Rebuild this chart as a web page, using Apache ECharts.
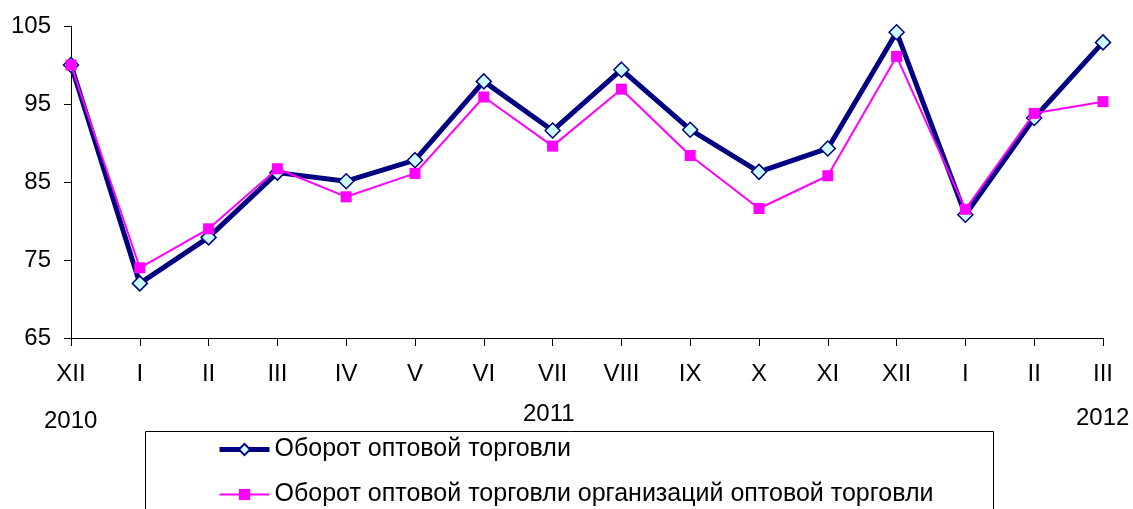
<!DOCTYPE html>
<html>
<head>
<meta charset="utf-8">
<script src="https://cdn.jsdelivr.net/npm/echarts@6/dist/echarts.min.js"></script>
<style>
html,body{margin:0;padding:0;background:#fff;}
#c{width:1133px;height:509px;}
</style>
</head>
<body>
<div id="c"></div>
<script>
var categories = ['XII','I','II','III','IV','V','VI','VII','VIII','IX','X','XI','XII','I','II','III'];
var wholesaleTurnover = [100.0,72.0,77.9,86.2,85.1,87.8,97.9,91.6,99.4,91.7,86.3,89.3,104.2,80.8,93.2,102.9];
var wholesaleOrgTurnover = [100.0,74.0,79.0,86.7,83.1,86.1,95.9,89.6,96.9,88.4,81.6,85.8,101.1,81.5,93.8,95.3];
var yTicks = [65,75,85,95,105];
var seriesNames = ['Оборот оптовой торговли','Оборот оптовой торговли организаций оптовой торговли'];
var yearLabels = ['2010','2011','2012'];

var font = '"Liberation Sans", Arial, sans-serif';
var chart = echarts.init(document.getElementById('c'));
chart.setOption({
  animation: false,
  backgroundColor: '#fff',
  grid: {left: 71, right: 30, top: 26, bottom: 171},
  xAxis: {
    type: 'category',
    data: categories,
    boundaryGap: false,
    axisLine: {lineStyle: {color: '#000', width: 1}},
    axisTick: {show: true, alignWithLabel: true, length: 8, lineStyle: {color: '#000'}},
    axisLabel: {color: '#000', fontSize: 24, fontFamily: font, margin: 24, interval: 0}
  },
  yAxis: {
    type: 'value',
    min: yTicks[0],
    max: yTicks[yTicks.length-1],
    interval: 10,
    axisLine: {show: true, lineStyle: {color: '#000', width: 1}},
    axisTick: {show: true, length: 7, lineStyle: {color: '#000'}},
    splitLine: {show: false},
    axisLabel: {color: '#000', fontSize: 24, fontFamily: font, margin: 20}
  },
  legend: {
    orient: 'vertical',
    left: 217,
    top: 437,
    height: 120,
    padding: 0,
    itemWidth: 50,
    itemHeight: 14,
    itemGap: 20,
    lineStyle: {width: 'inherit'},
    textStyle: {color: '#000', fontSize: 25, lineHeight: 25, fontFamily: font},
    data: seriesNames
  },
  graphic: [
    {type: 'rect', left: 143, top: 429, shape: {width: 848, height: 100}, style: {fill: 'none', stroke: '#000', lineWidth: 1}, z: -1},
    {type: 'text', left: 44, top: 409, style: {text: yearLabels[0], font: '24px ' + font, fill: '#000'}},
    {type: 'text', left: 523, top: 402, style: {text: yearLabels[1], font: '24px ' + font, fill: '#000'}},
    {type: 'text', left: 1076, top: 406, style: {text: yearLabels[2], font: '24px ' + font, fill: '#000'}}
  ],
  series: [
    {
      name: seriesNames[0],
      type: 'line',
      data: wholesaleTurnover,
      symbol: 'diamond',
      symbolSize: 15,
      lineStyle: {color: '#000080', width: 5},
      itemStyle: {color: '#CCFFFF', borderColor: '#000080', borderWidth: 1.5},
      z: 2
    },
    {
      name: seriesNames[1],
      type: 'line',
      data: wholesaleOrgTurnover,
      symbol: 'rect',
      symbolSize: 11,
      lineStyle: {color: '#FF00FF', width: 2},
      itemStyle: {color: '#FF00FF', borderColor: '#FF00FF', borderWidth: 0},
      z: 3
    }
  ]
});
</script>
</body>
</html>
